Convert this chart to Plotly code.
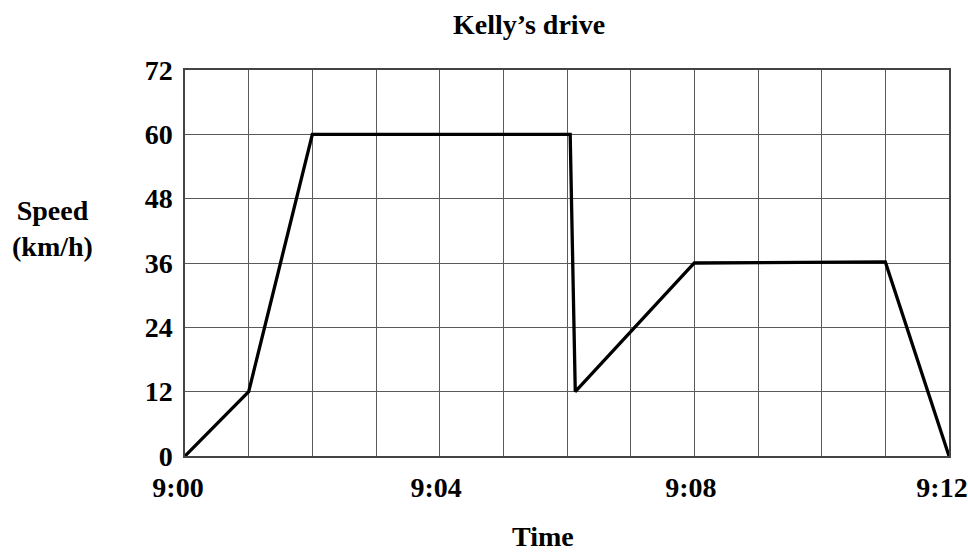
import plotly.graph_objects as go

minutes = [0, 1, 2, 6.05, 6.13, 8, 11, 12]
speed = [0, 12, 60, 60, 12, 36, 36.2, 0]

NB = "\u00a0"
x_tickvals = list(range(0, 13))
x_ticktext = ["9:00", "", "", "", NB + "9:04", "", "", "", NB + "9:08", "", "", "", "9:12"]
y_tickvals = [0, 12, 24, 36, 48, 60, 72]

FONT = "Liberation Serif"

W, H = 968, 553
L, R, T, B = 185, 19, 70, 97
PW, PH = W - L - R, H - T - B

fig = go.Figure()
fig.add_trace(go.Scatter(x=minutes, y=speed, mode="lines",
                         line=dict(color="black", width=3.3), hoverinfo="skip"))

fig.update_layout(
    width=W, height=H,
    margin=dict(l=L, r=R, t=T, b=B, autoexpand=False),
    paper_bgcolor="white", plot_bgcolor="white",
    showlegend=False,
    font=dict(family=FONT, color="black", size=28),
    title=dict(text="<b>Kelly’s drive</b>", x=529 / W, xanchor="center",
               y=1 - 24 / H, yanchor="middle", font=dict(size=28, family=FONT)),
)
fig.update_xaxes(range=[0, 12], tickvals=x_tickvals, ticktext=x_ticktext,
                 automargin=False,
                 showgrid=True, gridcolor="#5a5a5a", gridwidth=1.3,
                 showline=True, linecolor="#444444", linewidth=1.5, mirror=True,
                 zeroline=False, ticks="", ticklabelstandoff=6, ticklabelshift=-7,
                 ticklabeloverflow="allow",
                 tickfont=dict(size=28, family=FONT, weight="bold"))
fig.update_yaxes(range=[0, 72], tickvals=y_tickvals,
                 automargin=False,
                 showgrid=True, gridcolor="#5a5a5a", gridwidth=1.3,
                 showline=True, linecolor="#444444", linewidth=1.5, mirror=True,
                 zeroline=False, ticks="", ticklabelstandoff=5,
                 tickfont=dict(size=28, family=FONT, weight="bold"))

fig.add_annotation(text="<b>Speed<br>(km/h)</b>", xref="paper", yref="paper",
                   x=(52 - L) / PW, y=(T + PH - 228) / PH, xanchor="center", yanchor="middle",
                   showarrow=False, font=dict(size=28, family=FONT), align="center")
fig.add_annotation(text="<b>Time</b>", xref="paper", yref="paper",
                   x=(543 - L) / PW, y=(T + PH - 536) / PH, xanchor="center", yanchor="middle",
                   showarrow=False, font=dict(size=28, family=FONT))

fig.write_html("out.html", config={"displayModeBar": False},
               post_script="document.body.style.margin='0';")
